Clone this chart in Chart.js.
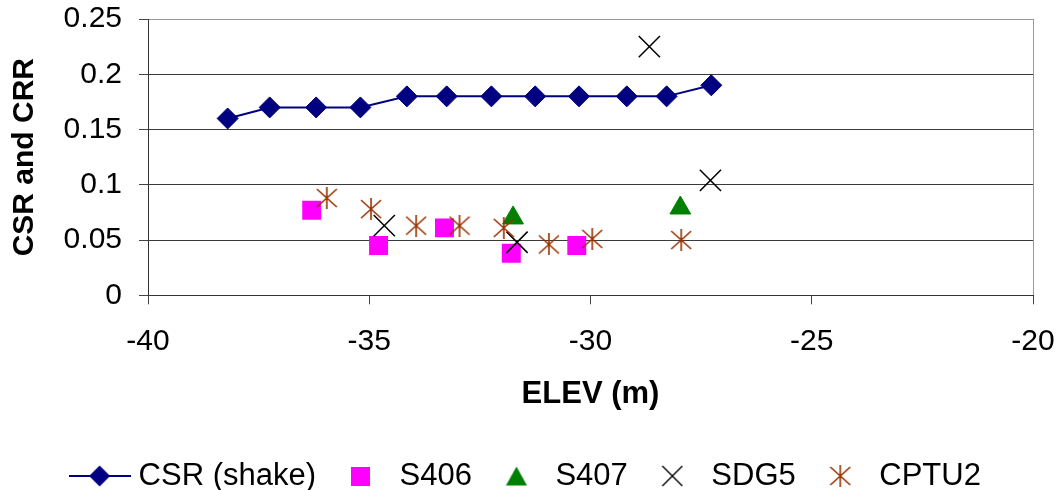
<!DOCTYPE html>
<html>
<head>
<meta charset="utf-8">
<title>CSR and CRR vs ELEV</title>
<script src="https://cdn.jsdelivr.net/npm/chart.js@4.4.1/dist/chart.umd.min.js"></script>
<style>
  html, body { margin: 0; padding: 0; background: #fff; }
  #wrap { position: relative; width: 1061px; height: 490px; }
</style>
</head>
<body>
<div id="wrap"><canvas id="myChart"></canvas></div>
<script>
// values (elevation in m, ratio)
const csrElev = [-38.2, -37.25, -36.2, -35.2, -34.15, -33.25, -32.24, -31.25, -30.26, -29.18, -28.28, -27.27];
const csrVal  = [0.16, 0.17, 0.17, 0.17, 0.18, 0.18, 0.18, 0.18, 0.18, 0.18, 0.18, 0.19];

const s406Elev = [-36.3, -34.79, -33.3, -31.79, -30.31];
const s406Val  = [0.077, 0.045, 0.061, 0.038, 0.045];

const s407Elev = [-31.75, -27.97];
const s407Val  = [0.07, 0.079];

const sdg5Elev = [-28.67, -27.29, -34.66, -31.66];
const sdg5Val  = [0.225, 0.104, 0.063, 0.048];

const cptu2Elev = [-35.96, -34.96, -33.94, -32.96, -31.96, -30.94, -29.96, -27.95];
const cptu2Val  = [0.088, 0.078, 0.063, 0.063, 0.061, 0.046, 0.051, 0.05];

const seriesNames = ['CSR (shake)', 'S406', 'S407', 'SDG5', 'CPTU2'];
const xTicks = [-40, -35, -30, -25, -20];
const yTicks = [0, 0.05, 0.1, 0.15, 0.2, 0.25];

const FONT = "'Liberation Sans', Arial, sans-serif";
Chart.defaults.font.family = FONT;
Chart.defaults.color = '#000';

function pairs(xs, ys) {
  return xs.map((x, i) => ({ x: x, y: ys[i] }));
}

// small pictures used as markers (asterisk) and legend icons
function makeIcon(w, h, draw) {
  const c = document.createElement('canvas');
  c.width = w;
  c.height = h;
  draw(c.getContext('2d'));
  return c;
}

const asterisk = makeIcon(22, 22, g => {
  g.strokeStyle = '#993300';
  g.lineWidth = 1.6;
  g.beginPath();
  g.moveTo(11, 0); g.lineTo(11, 22);
  g.moveTo(1, 2); g.lineTo(21, 20);
  g.moveTo(21, 2); g.lineTo(1, 20);
  g.stroke();
});

const legendIcons = [
  makeIcon(62, 24, g => {
    g.strokeStyle = '#000080';
    g.lineWidth = 2;
    g.beginPath(); g.moveTo(0, 12); g.lineTo(62, 12); g.stroke();
    g.fillStyle = '#000080';
    g.beginPath();
    g.moveTo(31, 1.5); g.lineTo(41.5, 12); g.lineTo(31, 22.5); g.lineTo(20.5, 12);
    g.closePath(); g.fill();
  }),
  makeIcon(19, 19, g => {
    g.fillStyle = '#ff00ff';
    g.fillRect(0, 0, 19, 19);
  }),
  makeIcon(22, 20, g => {
    g.fillStyle = '#008000';
    g.beginPath();
    g.moveTo(11, 0.5); g.lineTo(21.5, 19.5); g.lineTo(0.5, 19.5);
    g.closePath(); g.fill();
  }),
  makeIcon(22, 22, g => {
    g.strokeStyle = '#000';
    g.lineWidth = 1.4;
    g.beginPath();
    g.moveTo(1, 1); g.lineTo(21, 21);
    g.moveTo(21, 1); g.lineTo(1, 21);
    g.stroke();
  }),
  asterisk
];

const ctx = document.getElementById('myChart').getContext('2d');
window.chart = new Chart(ctx, {
  type: 'scatter',
  data: {
    datasets: [
      {
        label: seriesNames[0],
        data: pairs(csrElev, csrVal),
        showLine: true,
        borderColor: '#000080',
        borderWidth: 2,
        backgroundColor: '#000080',
        pointStyle: 'rectRot',
        pointRadius: 10.5,
        pointBorderWidth: 1,
        pointBorderColor: '#000080',
        pointBackgroundColor: '#000080',
        order: 5
      },
      {
        label: seriesNames[1],
        data: pairs(s406Elev, s406Val),
        pointStyle: 'rect',
        pointRadius: 13.4,
        pointBorderWidth: 0,
        pointBackgroundColor: '#ff00ff',
        pointBorderColor: '#ff00ff',
        order: 4
      },
      {
        label: seriesNames[2],
        data: pairs(s407Elev, s407Val),
        pointStyle: 'triangle',
        pointRadius: 12,
        pointBorderWidth: 1,
        pointBackgroundColor: '#008000',
        pointBorderColor: '#008000',
        order: 3
      },
      {
        label: seriesNames[3],
        data: pairs(sdg5Elev, sdg5Val),
        pointStyle: 'crossRot',
        pointRadius: 15,
        pointBorderWidth: 1.5,
        pointBorderColor: '#000',
        pointBackgroundColor: '#000',
        order: 2
      },
      {
        label: seriesNames[4],
        data: pairs(cptu2Elev, cptu2Val),
        pointStyle: asterisk,
        pointRadius: 11,
        order: 1
      }
    ]
  },
  options: {
    responsive: true,
    maintainAspectRatio: false,
    animation: false,
    events: [],
    layout: { padding: { top: 19, right: 28, bottom: -11.5, left: 24 } },
    elements: { line: { tension: 0 } },
    plugins: {
      tooltip: { enabled: false },
      legend: {
        position: 'bottom',
        labels: {
          usePointStyle: true,
          pointStyleWidth: 47,
          padding: 21,
          color: '#000',
          font: { size: 31 },
          generateLabels: () => seriesNames.map((name, i) => ({
            text: name,
            pointStyle: legendIcons[i],
            datasetIndex: i,
            hidden: false,
            lineWidth: 0,
            fillStyle: 'rgba(0,0,0,0)',
            strokeStyle: 'rgba(0,0,0,0)'
          }))
        }
      }
    },
    scales: {
      x: {
        type: 'linear',
        min: -40,
        max: -20,
        afterBuildTicks: s => { s.ticks = xTicks.map(v => ({ value: v })); },
        afterFit: s => {
          s.height = 144.2;
          s.paddingLeft = 0;
          s.paddingRight = 0;
        },
        ticks: {
          font: { size: 30 },
          color: '#000',
          padding: 19,
          maxRotation: 0,
          autoSkip: false,
          callback: v => String(v)
        },
        grid: {
          color: c => (c.tick && c.tick.value === -20) ? '#999' : 'rgba(0,0,0,0)',
          tickColor: '#444',
          tickLength: 9,
          lineWidth: 1
        },
        border: { color: '#333', width: 1 },
        title: {
          display: true,
          text: 'ELEV (m)',
          color: '#000',
          font: { size: 31, weight: 'bold' },
          padding: { top: 18, bottom: 26.5 }
        }
      },
      y: {
        type: 'linear',
        position: 'left',
        min: 0,
        max: 0.25,
        afterBuildTicks: s => { s.ticks = yTicks.map(v => ({ value: v })); },
        afterFit: s => {
          s.width = 124;
          s.paddingTop = 0;
          s.paddingBottom = 0;
        },
        ticks: {
          font: { size: 30 },
          color: '#000',
          padding: 17,
          callback: v => String(+v.toFixed(2))
        },
        grid: {
          color: c => (c.tick && c.tick.value === 0.25) ? '#999' : '#3a3a3a',
          tickColor: '#444',
          tickLength: 9,
          lineWidth: 1
        },
        border: { color: '#333', width: 1 },
        title: {
          display: true,
          text: 'CSR and CRR',
          color: '#000',
          font: { size: 30, weight: 'bold' },
          padding: { top: -17, bottom: 0 }
        }
      }
    }
  }
});
</script>
</body>
</html>
